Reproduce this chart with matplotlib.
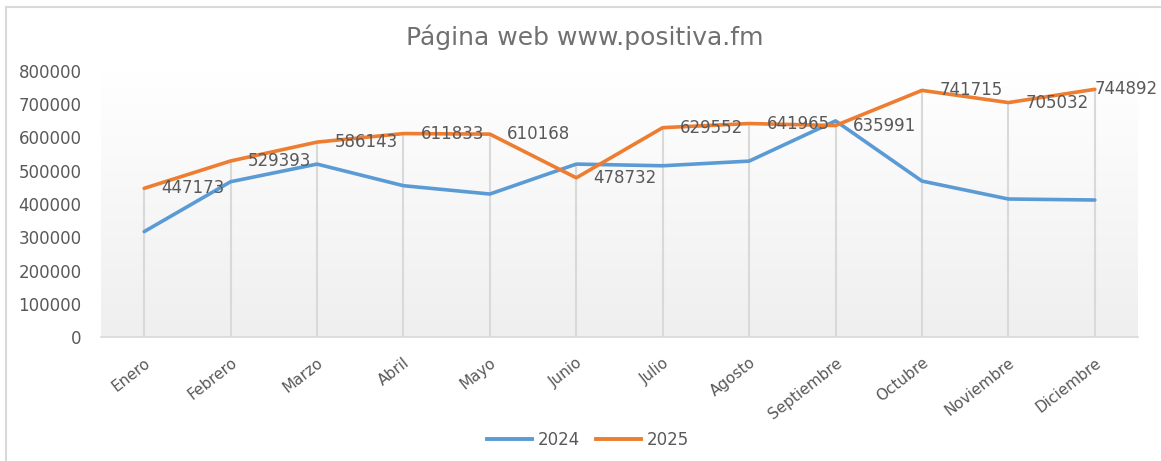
import numpy as np
import matplotlib
matplotlib.use("Agg")
import matplotlib.pyplot as plt
from matplotlib.colors import LinearSegmentedColormap
from matplotlib.lines import Line2D

months = ["Enero", "Febrero", "Marzo", "Abril", "Mayo", "Junio", "Julio",
          "Agosto", "Septiembre", "Octubre", "Noviembre", "Diciembre"]
v2024 = [317000, 467000, 520000, 455000, 430000, 520000, 515000, 529000,
         650000, 469000, 415000, 412000]
v2025 = [447173, 529393, 586143, 611833, 610168, 478732, 629552, 641965,
         635991, 741715, 705032, 744892]
yticks = [0, 100000, 200000, 300000, 400000, 500000, 600000, 700000, 800000]
title = "Página web www.positiva.fm"

BLUE = "#5B9BD5"
ORANGE = "#ED7D31"
TXT = "#595959"

W, H = 1161, 461
fig = plt.figure(figsize=(W / 100, H / 100), dpi=100)
fig.patch.set_facecolor("white")

# outer chart frame (left and top visible)
fig.add_artist(Line2D([6 / W, 6 / W], [0, 1 - 7 / H], color="#d9d9d9", lw=1.5))
fig.add_artist(Line2D([6 / W, 1], [1 - 7 / H, 1 - 7 / H], color="#d9d9d9", lw=1.5))

left, right = 101 / W, 1138 / W
bottom, top = 1 - 337 / H, 1 - 71 / H
ax = fig.add_axes([left, bottom, right - left, top - bottom])

x = np.arange(len(months))
n = len(months)

# gradient background (white at top, light gray at bottom)
cmap = LinearSegmentedColormap.from_list("g", ["#ffffff", "#efefef"])
grad = np.linspace(1, 0, 256).reshape(-1, 1)
ax.imshow(grad, extent=[-0.5, n - 0.5, 0, 800000], aspect="auto",
          cmap=cmap, zorder=0, origin="lower", vmin=0, vmax=1)
ax.set_xlim(-0.5, n - 0.5)
ax.set_ylim(0, 800000)

# drop lines
tops = np.maximum(v2024, v2025)
ax.vlines(x, 0, tops, color="#d9d9d9", lw=1.5, zorder=1)

ax.plot(x, v2024, color=BLUE, lw=2.6, zorder=3, solid_capstyle="round",
        solid_joinstyle="round")
ax.plot(x, v2025, color=ORANGE, lw=2.6, zorder=3, solid_capstyle="round",
        solid_joinstyle="round")

for i, (xi, v) in enumerate(zip(x, v2025)):
    dx = 0 if i == n - 1 else 12.5
    ax.annotate(f"{v}", (xi, v), xytext=(dx, 0), textcoords="offset points",
                ha="left", va="center", fontsize=12, color=TXT, zorder=4,
                annotation_clip=False)

for s in ["top", "right", "left"]:
    ax.spines[s].set_visible(False)
ax.spines["bottom"].set_color("#d9d9d9")
ax.spines["bottom"].set_linewidth(1.2)

ax.set_yticks(yticks)
ax.set_yticklabels([str(t) for t in yticks])
ax.tick_params(axis="y", length=0, pad=14, labelsize=12, labelcolor=TXT)
ax.set_xticks(x)
ax.set_xticklabels(months, rotation=38, ha="right", rotation_mode="anchor")
ax.tick_params(axis="x", length=0, pad=13, labelsize=11, labelcolor=TXT)

fig.text(585 / W, 1 - 37 / H, title, ha="center", va="center",
         fontsize=18, color="#707070")

leg = fig.legend(handles=[Line2D([], [], color=BLUE, lw=2.8),
                          Line2D([], [], color=ORANGE, lw=2.8)],
                 labels=["2024", "2025"], loc="center",
                 bbox_to_anchor=(588 / W, 1 - 440 / H), ncol=2, frameon=False,
                 fontsize=12, labelcolor=TXT, handlelength=2.7,
                 handletextpad=0.35, columnspacing=1.0)

fig.savefig("out.png", dpi=100, facecolor="white")
